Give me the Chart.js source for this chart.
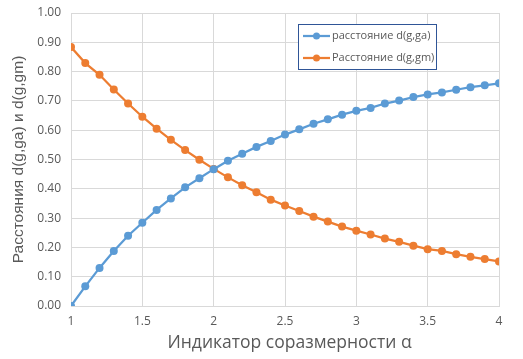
<!DOCTYPE html>
<html>
<head>
<meta charset="utf-8">
<script src="https://cdn.jsdelivr.net/npm/chart.js@4/dist/chart.umd.min.js"></script>
<style>
html,body{margin:0;padding:0;background:#fff;}
#wrap{width:523px;height:359px;}
</style>
</head>
<body>
<div id="wrap"><canvas id="c" width="523" height="359"></canvas></div>
<script>
const alphas = [1.0,1.1,1.2,1.3,1.4,1.5,1.6,1.7,1.8,1.9,2.0,2.1,2.2,2.3,2.4,2.5,2.6,2.7,2.8,2.9,3.0,3.1,3.2,3.3,3.4,3.5,3.6,3.7,3.8,3.9,4.0];
const dGa = [0.000,0.067,0.130,0.188,0.240,0.284,0.328,0.367,0.405,0.436,0.467,0.496,0.520,0.543,0.563,0.585,0.603,0.622,0.637,0.653,0.666,0.676,0.691,0.701,0.713,0.722,0.729,0.738,0.747,0.753,0.760];
const dGm = [0.884,0.829,0.789,0.739,0.691,0.646,0.605,0.567,0.532,0.499,0.468,0.439,0.412,0.388,0.363,0.343,0.324,0.305,0.288,0.271,0.257,0.244,0.230,0.219,0.206,0.194,0.188,0.177,0.168,0.160,0.152];
const seriesNames = ["расстояние d(g,ga)", "Расстояние d(g,gm)"];
const xTitle = "Индикатор соразмерности α";
const yTitle = "Расстояния d(g,ga) и d(g,gm)";

const BLUE = "#5B9BD5", ORANGE = "#ED7D31", TXT = "#595959", GRID = "#D9D9D9";

const legendBox = {
  id: "legendBox",
  afterDraw(chart) {
    const ctx = chart.ctx;
    const x0 = 298, y0 = 24, w = 138, h = 45;
    ctx.save();
    ctx.fillStyle = "#fff";
    ctx.fillRect(x0, y0, w, h);
    ctx.strokeStyle = "#2F5597";
    ctx.lineWidth = 1;
    ctx.strokeRect(x0 + 0.5, y0 + 0.5, w, h);
    chart.data.datasets.forEach((ds, i) => {
      const cy = y0 + 12 + i * 22;
      ctx.strokeStyle = ds.borderColor;
      ctx.lineWidth = 2.25;
      ctx.beginPath();
      ctx.moveTo(x0 + 5, cy);
      ctx.lineTo(x0 + 32, cy);
      ctx.stroke();
      ctx.fillStyle = ds.backgroundColor;
      ctx.beginPath();
      ctx.arc(x0 + 18.5, cy, 3.5, 0, Math.PI * 2);
      ctx.fill();
      ctx.fillStyle = TXT;
      ctx.font = "11px 'Open Sans', 'DejaVu Sans', sans-serif";
      ctx.textBaseline = "middle";
      ctx.textAlign = "left";
      ctx.fillText(ds.label, x0 + 34, cy);
    });
    ctx.restore();
  }
};

new Chart(document.getElementById("c"), {
  type: "line",
  data: {
    datasets: [
      { label: seriesNames[0], data: alphas.map((a, i) => ({x: a, y: dGa[i]})),
        borderColor: BLUE, backgroundColor: BLUE, borderWidth: 2.25,
        pointRadius: 4, pointHoverRadius: 4, pointBorderWidth: 0 },
      { label: seriesNames[1], data: alphas.map((a, i) => ({x: a, y: dGm[i]})),
        borderColor: ORANGE, backgroundColor: ORANGE, borderWidth: 2.25,
        pointRadius: 4, pointHoverRadius: 4, pointBorderWidth: 0 }
    ]
  },
  options: {
    responsive: false,
    animation: false,
    devicePixelRatio: 1,
    layout: { padding: { left: 0, top: 13, right: 24, bottom: 0 } },
    plugins: { legend: { display: false }, tooltip: { enabled: false } },
    scales: {
      x: {
        type: "linear", min: 1, max: 4,
        ticks: { stepSize: 0.5, color: TXT, padding: 8,
          font: { size: 12, family: "'Open Sans', 'DejaVu Sans', sans-serif" },
          callback: v => String(v) },
        grid: { color: GRID, drawTicks: false },
        border: { color: GRID },
        title: { display: true, text: "  " + xTitle, color: TXT,
          font: { size: 17.5, family: "'Open Sans', 'DejaVu Sans', sans-serif" },
          padding: { top: 7, bottom: 5 } },
        afterFit(s) { s.height = 53; s.paddingLeft = 0; s.paddingRight = 0; }
      },
      y: {
        min: 0, max: 1,
        ticks: { stepSize: 0.1, color: TXT, padding: 10,
          font: { size: 12, family: "'Open Sans', 'DejaVu Sans', sans-serif" },
          callback: v => v.toFixed(2) },
        grid: { color: GRID, drawTicks: false },
        border: { color: GRID },
        title: { display: true, text: yTitle, color: TXT,
          font: { size: 15.5, family: "'Liberation Sans', Arial, sans-serif" },
          padding: { top: 9, bottom: 0 } },
        afterFit(s) { s.width = 71; s.paddingTop = 0; s.paddingBottom = 0; }
      }
    }
  },
  plugins: [legendBox]
});
</script>
</body>
</html>
